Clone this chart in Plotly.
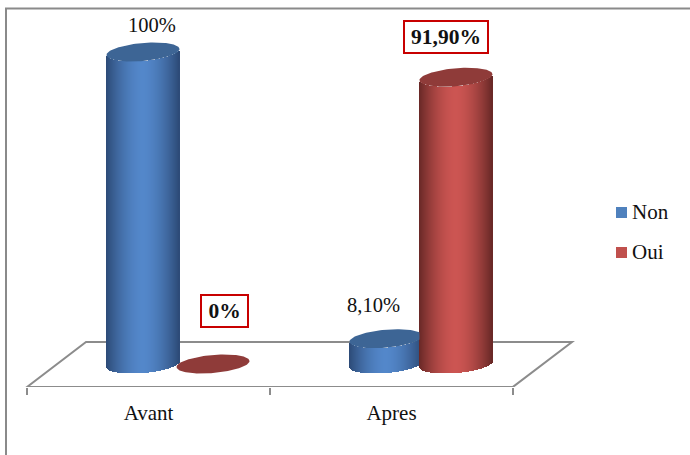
import numpy as np
import plotly.graph_objects as go

# Chart data
categories = ["Avant", "Apres"]
non_values = [100, 8.1]
oui_values = [0, 91.9]
non_labels = ["100%", "8,10%"]
oui_labels = ["0%", "91,90%"]
series_names = ["Non", "Oui"]

# Canvas and scale: one category spans 243 px, one percent spans 3.12 px
WIDTH, HEIGHT = 690, 455
X_ORIGIN_PX, CAT_PX = 27, 243
Y_ZERO_PX, PCT_PX = 364, 3.12
PLOT_BOTTOM_PX = 387


def to_x(px):
    return (px - X_ORIGIN_PX) / CAT_PX


def to_y(px):
    return (Y_ZERO_PX - px) / PCT_PX


FONT = "Liberation Serif"
TEXT_COLOR = "#111111"
GREY = "#8c8c8c"
BLUE = dict(edge=(44, 74, 118), mid=(83, 135, 202), cap="#3d6595", swatch="#4f81bd")
RED = dict(edge=(104, 40, 38), mid=(204, 85, 82), cap="#8f3b39", swatch="#c0504d")

# Cylinder geometry, in pixels
RADIUS_PX = 36.5
ELLIPSE_B_PX = 9.0
ELLIPSE_TILT_PX = 3.0
NON_OFFSET_PX = 116
OUI_OFFSET_PX = 186


def lower_arc(value, u):
    return value + (ELLIPSE_TILT_PX * u - ELLIPSE_B_PX * np.sqrt(1 - u**2)) / PCT_PX


def strips(values, offset_px, style):
    """Shaded vertical slices that together form the cylinder walls of one series."""
    xs, ys, bases, colors = [], [], [], []
    edge, mid = np.array(style["edge"]), np.array(style["mid"])
    for i, value in enumerate(values):
        if value <= 0:
            continue
        for dx in np.arange(-RADIUS_PX + 0.5, RADIUS_PX, 1.0):
            u = dx / RADIUS_PX
            shade = 1 - abs(u) ** 1.7
            rgb = (edge + (mid - edge) * shade).round().astype(int)
            xs.append(i + (offset_px + dx) / CAT_PX)
            ys.append(value)
            bases.append(lower_arc(0, u))
            colors.append(f"rgb({rgb[0]},{rgb[1]},{rgb[2]})")
    return xs, ys, bases, colors


def cap(index, value, offset_px, max_x=None):
    """Closed tilted ellipse sitting on top of a cylinder."""
    t = np.linspace(0, 2 * np.pi, 121)
    u = np.cos(t)
    x = index + (offset_px + RADIUS_PX * u) / CAT_PX
    if max_x is not None:
        x = np.minimum(x, max_x)
    y = value + (ELLIPSE_TILT_PX * u + ELLIPSE_B_PX * np.sin(t)) / PCT_PX
    return x, y


fig = go.Figure()

# Cylinder walls, Non first so that Oui sits in front of it
for values, offset, style, name in [
    (non_values, NON_OFFSET_PX, BLUE, series_names[0]),
    (oui_values, OUI_OFFSET_PX, RED, series_names[1]),
]:
    xs, ys, bases, colors = strips(values, offset, style)
    fig.add_trace(
        go.Bar(
            x=xs,
            y=ys,
            base=bases,
            width=1.3 / CAT_PX,
            marker=dict(color=colors, line=dict(width=0)),
            name=name,
            showlegend=False,
            hoverinfo="skip",
        )
    )

# Cylinder tops; a Non top stops where a taller Oui cylinder begins
for i, (non, oui) in enumerate(zip(non_values, oui_values)):
    limit = i + (OUI_OFFSET_PX - RADIUS_PX) / CAT_PX if oui > 0 else None
    for value, offset, style, name, clip in [
        (non, NON_OFFSET_PX, BLUE, series_names[0], limit),
        (oui, OUI_OFFSET_PX, RED, series_names[1], None),
    ]:
        x, y = cap(i, value, offset, clip)
        fig.add_trace(
            go.Scatter(
                x=x,
                y=y,
                mode="lines",
                fill="toself",
                fillcolor=style["cap"],
                line=dict(width=0, color=style["cap"]),
                name=name,
                showlegend=False,
                hoverinfo="skip",
            )
        )

# Legend entries, placed to the right of the floor
for name, style, py in [
    (series_names[0], BLUE, 212.5),
    (series_names[1], RED, 252.5),
]:
    fig.add_trace(
        go.Scatter(
            x=[to_x(621.5)],
            y=[to_y(py)],
            mode="markers",
            marker=dict(symbol="square", size=11, color=style["swatch"], line=dict(width=0)),
            name=name,
            showlegend=False,
            hoverinfo="skip",
        )
    )
    fig.add_annotation(
        x=to_x(630),
        y=to_y(py - 1),
        xref="x",
        yref="y",
        xanchor="left",
        showarrow=False,
        text=name,
        font=dict(family=FONT, size=21, color=TEXT_COLOR),
    )

# Value labels: boxed and bold for the Oui series
label_specs = [
    (non_labels[0], 151.5, 25, False),
    (non_labels[1], 373.5, 305, False),
    (oui_labels[0], 224, 310.5, True),
    (oui_labels[1], 446, 37, True),
]
for text, px, py, boxed in label_specs:
    options = dict(
        x=to_x(px),
        y=to_y(py),
        xref="x",
        yref="y",
        showarrow=False,
        font=dict(family=FONT, size=21.5 if boxed else 20.5, color=TEXT_COLOR),
    )
    if boxed:
        options.update(
            text=f"<b>{text}</b>",
            bordercolor="#c80000",
            borderwidth=2,
            bgcolor="white",
            borderpad=0,
            width=(82 if len(text) > 3 else 45),
            height=30,
        )
    else:
        options.update(text=text)
    fig.add_annotation(**options)

# Floor of the 3-D plot, with the front edge acting as the category axis
floor_path = (
    f"M {to_x(27)} {to_y(387)} L {to_x(86)} {to_y(342)} "
    f"L {to_x(572)} {to_y(342)} L {to_x(513)} {to_y(386.9)} Z"
)
fig.add_shape(
    type="path",
    path=floor_path,
    xref="x",
    yref="y",
    layer="below",
    fillcolor="white",
    line=dict(color=GREY, width=2),
)

# Frame of the chart area: only the left and top sides are visible
fig.add_shape(
    type="path",
    path=(
        f"M {6 / WIDTH} {(PLOT_BOTTOM_PX - HEIGHT) / PLOT_BOTTOM_PX} "
        f"L {6 / WIDTH} {(PLOT_BOTTOM_PX - 8.5) / PLOT_BOTTOM_PX} "
        f"L 1 {(PLOT_BOTTOM_PX - 8.5) / PLOT_BOTTOM_PX}"
    ),
    xref="paper",
    yref="paper",
    layer="below",
    line=dict(color="#8a8a8a", width=2),
)

fig.update_layout(
    width=WIDTH,
    height=HEIGHT,
    margin=dict(l=0, r=0, t=0, b=HEIGHT - PLOT_BOTTOM_PX, autoexpand=False),
    paper_bgcolor="white",
    plot_bgcolor="white",
    barmode="overlay",
    bargap=0,
    showlegend=False,
    xaxis=dict(
        range=[to_x(0), to_x(WIDTH)],
        tickvals=[0.5, 1.5],
        ticktext=categories,
        ticks="",
        ticklen=0,
        ticklabelstandoff=11,
        tickfont=dict(family=FONT, size=21, color=TEXT_COLOR),
        showgrid=False,
        zeroline=False,
        showline=False,
        minor=dict(tickvals=[0, 1, 2], ticks="outside", ticklen=7, tickwidth=2, tickcolor=GREY, showgrid=False),
        fixedrange=True,
    ),
    yaxis=dict(range=[to_y(PLOT_BOTTOM_PX), to_y(0)], visible=False, fixedrange=True),
)

fig.write_html("out.html")
